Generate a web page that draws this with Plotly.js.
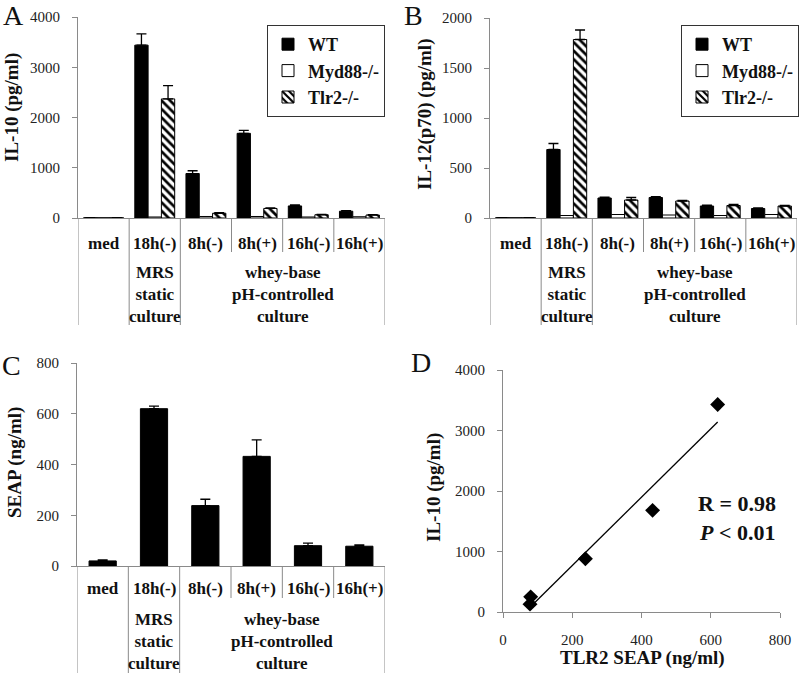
<!DOCTYPE html>
<html>
<head>
<meta charset="utf-8">
<script src="https://cdn.plot.ly/plotly-3.0.1.min.js"></script>
<style>html,body{margin:0;padding:0;background:#fff;}#chart{width:800px;height:673px;}</style>
</head>
<body>
<div id="chart"></div>
<script>
// ---------- data ----------
const categories = ['med', '18h(-)', '8h(-)', '8h(+)', '16h(-)', '16h(+)'];
const seriesNames = ['WT', 'Myd88-/-', 'Tlr2-/-'];

// Panel A: IL-10 (pg/ml)
const il10WT = [5, 3440, 885, 1685, 240, 135];
const il10WTErr = [0, 225, 55, 60, 20, 10];
const il10Myd = [5, 20, 30, 30, 20, 25];
const il10Tlr2 = [5, 2370, 95, 190, 65, 60];
const il10Tlr2Err = [0, 265, 10, 10, 5, 5];

// Panel B: IL-12(p70) (pg/ml)
const il12WT = [3, 685, 200, 205, 120, 95];
const il12WTErr = [0, 60, 8, 8, 8, 5];
const il12Myd = [3, 25, 35, 30, 25, 35];
const il12Tlr2 = [3, 1785, 180, 170, 125, 120];
const il12Tlr2Err = [0, 95, 25, 5, 12, 5];

// Panel C: SEAP (ng/ml)
const seap = [20, 620, 238, 432, 80, 78];
const seapErr = [4, 10, 25, 65, 10, 5];

// Panel D: IL-10 vs TLR2 SEAP
const dSeap = [620, 238, 432, 80, 78];
const dIl10 = [3430, 880, 1680, 250, 130];

// group labels
const groupLabels = ['MRS<br>static<br>culture', 'whey-base<br>pH-controlled<br>culture'];

// ---------- helpers ----------
const SERIF = 'Liberation Serif, Times New Roman, serif';
const GRAY = '#8a8a8a';
const zeros = categories.map(() => 0);

function barTrace(y, err, kind, xa, ya, legend, showlegend) {
  const t = {
    type: 'bar', x: categories, y: y, xaxis: xa, yaxis: ya,
    name: '<b>' + seriesNames[kind] + '</b>', legend: legend, showlegend: showlegend,
    marker: {line: {color: 'black', width: 1}},
    hoverinfo: 'x+y'
  };
  if (kind === 0) t.marker.color = 'black';
  if (kind === 1) t.marker.color = 'white';
  if (kind === 2) {
    t.marker.color = 'white';
    t.marker.pattern = {shape: '\\', fgcolor: 'black', bgcolor: 'white', size: 6, solidity: 0.45};
  }
  if (err) {
    t.error_y = {type: 'data', array: err, arrayminus: zeros, symmetric: false,
      color: 'black', thickness: 1.3, width: 5};
  }
  return t;
}

// regression line for D
const n = dSeap.length;
const mx = dSeap.reduce((a, b) => a + b, 0) / n;
const my = dIl10.reduce((a, b) => a + b, 0) / n;
let sxy = 0, sxx = 0;
for (let i = 0; i < n; i++) { sxy += (dSeap[i] - mx) * (dIl10[i] - my); sxx += (dSeap[i] - mx) ** 2; }
const slope = sxy / sxx, icpt = my - slope * mx;
const xMin = Math.min(...dSeap), xMax = Math.max(...dSeap);
const fitX = [xMin, xMax];
const fitY = fitX.map(v => icpt + slope * v);

const traces = [
  barTrace(il10WT, il10WTErr, 0, 'x', 'y', 'legend', true),
  barTrace(il10Myd, null, 1, 'x', 'y', 'legend', true),
  barTrace(il10Tlr2, il10Tlr2Err, 2, 'x', 'y', 'legend', true),
  barTrace(il12WT, il12WTErr, 0, 'x2', 'y2', 'legend2', true),
  barTrace(il12Myd, null, 1, 'x2', 'y2', 'legend2', true),
  barTrace(il12Tlr2, il12Tlr2Err, 2, 'x2', 'y2', 'legend2', true),
  Object.assign(barTrace(seap, seapErr, 0, 'x3', 'y3', 'legend', false), {width: 0.53}),
  {type: 'scatter', mode: 'lines', x: fitX, y: fitY, xaxis: 'x4', yaxis: 'y4',
   line: {color: 'black', width: 1.3}, showlegend: false, hoverinfo: 'skip'},
  {type: 'scatter', mode: 'markers', x: dSeap, y: dIl10, xaxis: 'x4', yaxis: 'y4',
   marker: {symbol: 'diamond', size: 11.5, color: 'black'}, showlegend: false}
];

// ---------- layout ----------
const tickfont = {family: SERIF, size: 15, color: '#222'};
function catAxis(domain, anchor) {
  return {domain: domain, anchor: anchor, type: 'category', range: [-0.5, 5.5],
    showline: true, linecolor: GRAY, linewidth: 1, showticklabels: false, ticks: '',
    showgrid: false, zeroline: false, fixedrange: true};
}
function valAxis(domain, anchor, range, dtick) {
  return {domain: domain, anchor: anchor, range: range, dtick: dtick,
    showline: true, linecolor: GRAY, linewidth: 1, ticks: 'outside', ticklen: 5,
    tickcolor: GRAY, ticklabelstandoff: 9, tickfont: tickfont, showgrid: false, zeroline: false,
    fixedrange: true};
}

const yA = [1 - 218 / 673, 1 - 17 / 673];
const yC = [1 - 566 / 673, 1 - 363 / 673];

const legendStyle = {yanchor: 'top', xanchor: 'center', bordercolor: '#333', borderwidth: 1, bgcolor: 'white',
  font: {family: SERIF, size: 18, color: '#111'}, itemwidth: 30, tracegroupgap: 0};

const layout = {
  width: 800, height: 673,
  margin: {l: 0, r: 0, t: 0, b: 0},
  paper_bgcolor: 'white', plot_bgcolor: 'rgba(0,0,0,0)',
  barmode: 'group', bargap: 0.22, bargroupgap: 0,
  font: {family: SERIF, color: '#111'},
  xaxis: catAxis([78 / 800, 385 / 800], 'y'),
  yaxis: valAxis(yA, 'x', [0, 4000], 1000),
  xaxis2: catAxis([490 / 800, 797 / 800], 'y2'),
  yaxis2: valAxis([1 - 218 / 673, 1 - 18 / 673], 'x2', [0, 2000], 500),
  xaxis3: catAxis([77 / 800, 385 / 800], 'y3'),
  yaxis3: valAxis(yC, 'x3', [0, 800], 200),
  xaxis4: valAxis([503 / 800, 780 / 800], 'y4', [0, 800], 200),
  yaxis4: valAxis([1 - 612 / 673, 1 - 370 / 673], 'x4', [0, 4000], 1000),
  legend: Object.assign({x: 326 / 800, y: 1 - 25 / 673}, legendStyle),
  legend2: Object.assign({x: 740 / 800, y: 1 - 25 / 673}, legendStyle),
  shapes: [],
  annotations: []
};

// category separators, category labels, group labels
function addCategoryFrame(xa, base, shortEnd, longEnd, labelY, groupY) {
  const longIdx = [-0.5, 0.5, 1.5, 5.5];
  const shortIdx = [2.5, 3.5, 4.5];
  longIdx.forEach(v => layout.shapes.push({type: 'line', xref: xa, yref: 'paper',
    x0: v, x1: v, y0: base, y1: longEnd, line: {color: GRAY, width: 1}}));
  shortIdx.forEach(v => layout.shapes.push({type: 'line', xref: xa, yref: 'paper',
    x0: v, x1: v, y0: base, y1: shortEnd, line: {color: GRAY, width: 1}}));
  categories.forEach((c, i) => layout.annotations.push({xref: xa, yref: 'paper', x: i, y: labelY,
    text: '<b>' + c + '</b>', showarrow: false, xanchor: 'center', yanchor: 'middle',
    font: {family: SERIF, size: 17, color: '#111'}}));
  [1, 3.5].forEach((pos, g) => layout.annotations.push({xref: xa, yref: 'paper', x: pos, y: groupY,
    text: '<b>' + groupLabels[g] + '</b>', showarrow: false, xanchor: 'center', yanchor: 'middle',
    font: {family: SERIF, size: 17, color: '#111'}}));
}
addCategoryFrame('x', 1 - 218 / 673, 1 - 252 / 673, 1 - 325 / 673, 1 - 243 / 673, 1 - 294 / 673);
addCategoryFrame('x2', 1 - 218 / 673, 1 - 252 / 673, 1 - 325 / 673, 1 - 243 / 673, 1 - 294 / 673);
addCategoryFrame('x3', 1 - 566 / 673, 1 - 598 / 673, 0, 1 - 588 / 673, 1 - 641 / 673);

function paperText(x, y, text, size, opts) {
  layout.annotations.push(Object.assign({xref: 'paper', yref: 'paper', x: x / 800, y: 1 - y / 673,
    text: text, showarrow: false, xanchor: 'center', yanchor: 'middle',
    font: {family: SERIF, size: size, color: '#111'}}, opts || {}));
}
// panel letters
paperText(13, 15, 'A', 28);
paperText(414, 15, 'B', 28);
paperText(11, 366, 'C', 28);
paperText(421, 362, 'D', 28);
// axis titles
paperText(12, 108, '<b>IL-10 (pg/ml)</b>', 19, {textangle: -90});
paperText(425, 115, '<b>IL-12(p70) (pg/ml)</b>', 19, {textangle: -90});
paperText(15, 463, '<b>SEAP (ng/ml)</b>', 19, {textangle: -90});
paperText(434, 488, '<b>IL-10 (pg/ml)</b>', 19, {textangle: -90});
paperText(642, 658, '<b>TLR2 SEAP (ng/ml)</b>', 19);
// stats
paperText(737, 503, '<b>R = 0.98</b>', 22);
paperText(737, 532, '<b><i>P</i> &lt; 0.01</b>', 22);

Plotly.newPlot('chart', traces, layout, {displayModeBar: false, staticPlot: true});
</script>
</body>
</html>
